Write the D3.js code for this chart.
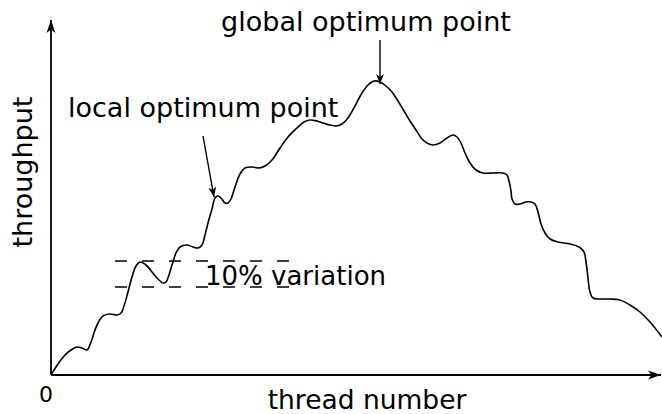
<!DOCTYPE html>
<html>
<head>
<meta charset="utf-8">
<script src="https://cdn.jsdelivr.net/npm/d3@7"></script>
<style>
  html, body { margin: 0; padding: 0; background: #fff; }
  svg { display: block; }
  text { font-family: "DejaVu Sans", sans-serif; fill: #000; }
</style>
</head>
<body>
<script>
// ---- data ----
const threads = [0,0.7,1.4,2.0,2.6,3.1,3.6,4.0,4.4,4.8,5.2,5.9,6.6,7.0,7.3,7.7,8.1,8.5,8.9,9.5,10.1,10.7,11.2,11.5,11.8,12.1,12.5,12.9,13.6,14.2,14.7,15.1,15.4,15.7,16.1,16.4,16.7,17.0,17.4,17.7,18.0,18.4,18.9,19.4,20.1,20.8,21.4,22.1,22.9,23.7,24.6,25.3,25.9,26.6,27.2,27.9,28.5,29.1,29.7,30.4,31.1,31.7,32.3,32.9,33.5,34.1,34.7,35.3,35.9,36.5,37.1,37.6,38.2,38.9,39.6,40.2,40.6,41.0,41.4,41.9,42.5,43.2,44.2,45.2,45.6,45.8,46.0,46.1,46.4,46.9,47.5,48.0,48.4,48.7,49.0,49.4,49.9,50.7,51.9,52.8,53.3,53.5,53.7,53.9,54.2,54.9,55.9,56.9,57.9,58.9,59.9,61.1];
const throughput = [0,2.2,4.0,5.0,5.6,5.4,5.0,6.6,9.0,10.8,11.8,12.2,12.0,12.4,13.8,16.6,19.6,21.8,22.6,22.0,20.6,19.2,18.4,18.6,20.0,22.0,24.4,25.6,26.0,25.6,25.4,26.0,28.0,30.4,33.2,35.4,35.8,35.4,34.4,34.4,35.2,37.6,40.2,41.4,41.6,41.4,41.8,43.0,45.4,47.6,49.4,50.6,51.0,50.8,50.4,50.0,49.8,50.2,51.4,53.8,56.4,58.0,58.8,58.6,57.8,56.6,54.8,52.8,50.8,49.0,47.2,46.4,46.0,46.4,47.4,48.0,47.6,46.4,44.4,42.4,41.0,40.4,40.4,40.4,40.0,38.8,36.8,35.2,34.2,34.2,34.6,34.6,34.2,32.6,30.2,28.4,27.2,26.6,26.2,25.6,24.6,22.6,19.4,16.6,15.4,15.2,15.2,15.0,14.0,12.6,10.6,7.6];

const xDomain = [0, 61];
const yDomain = [0, 71];

const axisLabels = ["thread number", "throughput"];
const originLabel = "0";

// variation band (throughput levels) and its x extent
const bandLevels = [22.8, 17.6];
const bandExtent = [6.4, 23.8];
const bandLabel = "10% variation";

// annotations: label, arrow start (x,y), arrow end (x,y)
const annoLabels = ["global optimum point", "local optimum point"];
const annoFrom = [[32.9, 67.0], [15.2, 47.8]];
const annoTo   = [[32.9, 58.2], [16.3, 35.6]];

// ---- drawing ----
const W = 662, H = 414;
const svg = d3.select("body").append("svg").attr("width", W).attr("height", H);

const x = d3.scaleLinear().domain(xDomain).range([51, 661]);
const y = d3.scaleLinear().domain(yDomain).range([375, 20]);

const defs = svg.append("defs");
defs.append("marker").attr("id", "axisArrow")
  .attr("viewBox", "-14 -6 16 12").attr("refX", 0).attr("refY", 0)
  .attr("markerUnits", "userSpaceOnUse")
  .attr("markerWidth", 16).attr("markerHeight", 12).attr("orient", "auto")
  .append("path").attr("d", "M0,0 L-13,-4.5 L-9.5,0 L-13,4.5 Z").attr("fill", "#000");
defs.append("marker").attr("id", "annoArrow")
  .attr("viewBox", "-12 -6 14 12").attr("refX", 0).attr("refY", 0)
  .attr("markerUnits", "userSpaceOnUse")
  .attr("markerWidth", 14).attr("markerHeight", 12).attr("orient", "auto")
  .append("path").attr("d", "M0,0 L-10,-4 L-7,0 L-10,4 Z").attr("fill", "#000");

// axes
svg.append("line")
  .attr("x1", x(0)).attr("y1", y(0)).attr("x2", x(xDomain[1])).attr("y2", y(0))
  .attr("stroke", "#000").attr("stroke-width", 1.8).attr("marker-end", "url(#axisArrow)");
svg.append("line")
  .attr("x1", x(0)).attr("y1", y(0)).attr("x2", x(0)).attr("y2", y(yDomain[1]))
  .attr("stroke", "#000").attr("stroke-width", 1.8).attr("marker-end", "url(#axisArrow)");

// band dashed lines
svg.selectAll(".band").data(bandLevels).join("line").attr("class", "band")
  .attr("x1", x(bandExtent[0])).attr("x2", x(bandExtent[1]))
  .attr("y1", d => y(d)).attr("y2", d => y(d))
  .attr("stroke", "#000").attr("stroke-width", 1.4)
  .attr("stroke-dasharray", "12,15");

// curve
const pts = threads.map((t, i) => [t, throughput[i]]);
const line = d3.line().x(d => x(d[0])).y(d => y(d[1])).curve(d3.curveCatmullRom.alpha(0.5));
svg.append("path").datum(pts).attr("d", line)
  .attr("fill", "none").attr("stroke", "#000").attr("stroke-width", 1.6);

// annotation arrows
annoFrom.forEach((f, i) => {
  svg.append("line")
    .attr("x1", x(f[0])).attr("y1", y(f[1]))
    .attr("x2", x(annoTo[i][0])).attr("y2", y(annoTo[i][1]))
    .attr("stroke", "#000").attr("stroke-width", 1.4)
    .attr("marker-end", "url(#annoArrow)");
});

svg.append("text").attr("x", 366).attr("y", 31).attr("text-anchor", "middle")
  .attr("font-size", 27).text(annoLabels[0]);
svg.append("text").attr("x", 68).attr("y", 117).attr("text-anchor", "start")
  .attr("font-size", 27).text(annoLabels[1]);
svg.append("text").attr("x", 205).attr("y", 285).attr("text-anchor", "start")
  .attr("font-size", 26).text(bandLabel);

svg.append("text").attr("x", 367).attr("y", 409).attr("text-anchor", "middle")
  .attr("font-size", 26.5).text(axisLabels[0]);
svg.append("text").attr("transform", "translate(32,172) rotate(-90)")
  .attr("text-anchor", "middle").attr("font-size", 27).text(axisLabels[1]);
svg.append("text").attr("x", 46).attr("y", 402).attr("text-anchor", "middle")
  .attr("font-size", 22).text(originLabel);
</script>
</body>
</html>
